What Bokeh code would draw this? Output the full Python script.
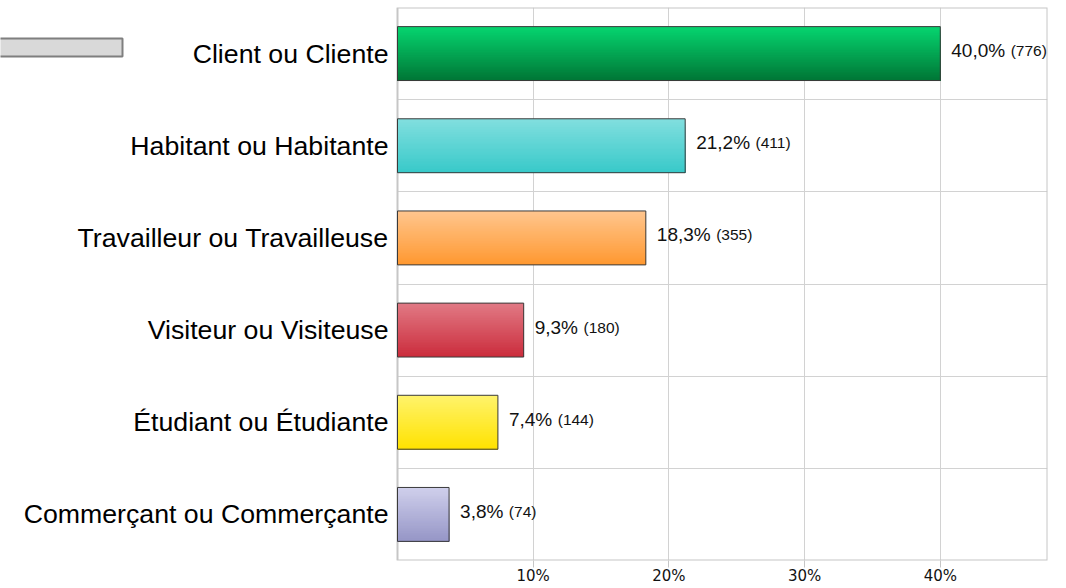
from bokeh.plotting import figure
from bokeh.models import Range1d, FixedTicker, BoxAnnotation, ColumnDataSource
from bokeh.core.properties import value
from bokeh.embed import file_html
from bokeh.resources import INLINE

# ---- data ----
categories = ["Client ou Cliente", "Habitant ou Habitante", "Travailleur ou Travailleuse",
              "Visiteur ou Visiteuse", "Étudiant ou Étudiante", "Commerçant ou Commerçante"]
percents = [40.0, 21.2, 18.3, 9.3, 7.4, 3.8]
counts = [776, 411, 355, 180, 144, 74]
x_ticks = [10, 20, 30, 40]
x_tick_labels = ["10%", "20%", "30%", "40%"]

# ---- style ----
top_colors = ["#06d570", "#82dfdf", "#ffc68e", "#e17a85", "#fff36c", "#d0d0ec"]
bottom_colors = ["#007635", "#38c9c9", "#ff9830", "#cb2c3c", "#ffe200", "#9595c6"]
BAR_H = 0.585
N_SLICES = 32
X_MAX = 47.9
FRAME_LEFT_PX = 397.0      # where x = 0 sits on the canvas
FRAME_W_PX = 1066 - 19     # frame spans the canvas from 0 to here
X_MIN = -X_MAX * FRAME_LEFT_PX / (FRAME_W_PX - FRAME_LEFT_PX)

def hex2rgb(h):
    h = h.lstrip("#")
    return tuple(int(h[i:i + 2], 16) for i in (0, 2, 4))

def lerp(c1, c2, t):
    a, b = hex2rgb(c1), hex2rgb(c2)
    return "#%02x%02x%02x" % tuple(round(a[j] + (b[j] - a[j]) * t) for j in range(3))

# Arial / Liberation Sans advance widths (per 1000 em)
ARIAL = {"0": 556, "1": 556, "2": 556, "3": 556, "4": 556, "5": 556, "6": 556,
         "7": 556, "8": 556, "9": 556, ",": 278, "%": 889, " ": 278, "(": 333, ")": 333}

def text_w(s, size):
    return sum(ARIAL.get(ch, 556) for ch in s) * size / 1000.0

p = figure(width=1066, height=588, output_backend="svg", toolbar_location=None,
           x_range=Range1d(X_MIN, X_MAX), y_range=Range1d(5.5, -0.5),
           min_border_left=0, min_border_right=19, min_border_top=7, min_border_bottom=28,
           background_fill_color="white", border_fill_color="white")
p.outline_line_color = None

# grid
p.xgrid.ticker = FixedTicker(ticks=x_ticks)
p.ygrid.ticker = FixedTicker(ticks=[i + 0.5 for i in range(len(categories) - 1)])
p.ygrid.cross_bounds = (0, X_MAX)
p.xgrid.grid_line_color = "#d2d2d2"
p.ygrid.grid_line_color = "#d2d2d2"

# x axis
xa = p.xaxis[0]
xa.ticker = FixedTicker(ticks=x_ticks)
xa.major_label_overrides = {t: l for t, l in zip(x_ticks, x_tick_labels)}
xa.axis_line_color = None
xa.major_tick_line_color = "#c6c6c6"
xa.major_tick_in = 0
xa.major_tick_out = 7
xa.minor_tick_line_color = None
xa.major_label_standoff = -1
xa.major_label_text_font = "DejaVu Sans"
xa.major_label_text_font_size = "15px"
xa.major_label_text_color = "#111111"

# y axis, drawn at x = 0 inside the frame
ya = p.yaxis[0]
ya.fixed_location = 0
ya.ticker = FixedTicker(ticks=list(range(len(categories))))
ya.major_label_overrides = {i: c for i, c in enumerate(categories)}
ya.axis_line_color = None
ya.major_tick_line_color = None
ya.minor_tick_line_color = None
ya.major_tick_in = 0
ya.major_tick_out = 0
ya.major_label_standoff = 9
ya.major_label_text_font = "Liberation Sans"
ya.major_label_text_font_size = "26.7px"
ya.major_label_text_color = "#000000"

# gradient bars: overlapping quads from each slice top down to bar bottom
ql, qr, qt, qb, qc = [], [], [], [], []
for i, v in enumerate(percents):
    top = i - BAR_H / 2
    bot = i + BAR_H / 2
    for k in range(N_SLICES):
        ql.append(0)
        qr.append(v)
        qt.append(top + k * BAR_H / N_SLICES)
        qb.append(bot)
        qc.append(lerp(top_colors[i], bottom_colors[i], (k + 0.5) / N_SLICES))
p.quad(left=ql, right=qr, top=qt, bottom=qb, fill_color=qc, line_color=None)

# bar outlines
p.hbar(y=list(range(len(categories))), right=percents, left=0, height=BAR_H,
       fill_color=None, line_color="#3a3a3a", line_width=1)

# value labels
pct_labels = [("%.1f" % v).replace(".", ",") + "%" for v in percents]
cnt_labels = ["(%d)" % c for c in counts]
ys = list(range(len(categories)))
src = ColumnDataSource(dict(x=percents, y=ys, pct=pct_labels, cnt=cnt_labels,
                            cnt_off=[11 + text_w(s, 19) + 5.5 for s in pct_labels]))
p.text(x="x", y="y", text="pct", source=src, x_offset=11, y_offset=-3,
       text_font=value("Liberation Sans"), text_font_size="19px",
       text_baseline="middle", text_align="left", text_color="#111111")
p.text(x="x", y="y", text="cnt", source=src, x_offset="cnt_off", y_offset=-3,
       text_font=value("Liberation Sans"), text_font_size="15.5px",
       text_baseline="middle", text_align="left", text_color="#111111")

# chart area outline (from x = 0 to the right edge of the frame)
p.add_layout(BoxAnnotation(left=0, right=X_MAX, top=-0.5, bottom=5.5,
                           fill_alpha=0, line_color="#c6c6c6", line_alpha=1.0,
                           line_width=2, level="underlay"))

# grey box in the top-left corner (page decoration)
p.add_layout(BoxAnnotation(left=-3, right=122, left_units="screen", right_units="screen",
                           top=-0.164, bottom=0.032,
                           fill_color="#d9d9d9", fill_alpha=1.0,
                           line_color="#7f7f7f", line_alpha=1.0, line_width=2))

open("out.html", "w").write(file_html(p, INLINE))
